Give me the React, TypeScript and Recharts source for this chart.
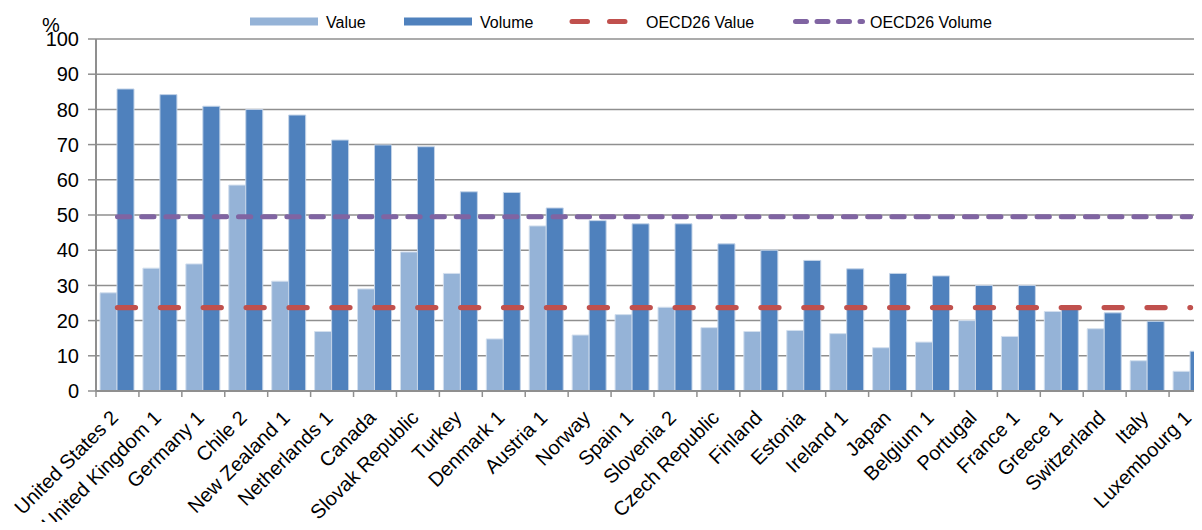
import React from "react";
import { ComposedChart, Bar, Line, XAxis, YAxis, CartesianGrid } from "recharts";

const COUNTRIES = [
  "United States 2", "United Kingdom 1", "Germany 1", "Chile 2", "New Zealand 1",
  "Netherlands 1", "Canada", "Slovak Republic", "Turkey", "Denmark 1", "Austria 1",
  "Norway", "Spain 1", "Slovenia 2", "Czech Republic", "Finland", "Estonia",
  "Ireland 1", "Japan", "Belgium 1", "Portugal", "France 1", "Greece 1",
  "Switzerland", "Italy", "Luxembourg 1",
];
const VALUE = [
  27.9, 34.9, 36.1, 58.5, 31.2, 16.9, 29.0, 39.5, 33.4, 14.8, 46.9, 15.9, 21.7,
  23.8, 18.0, 16.9, 17.2, 16.3, 12.3, 13.9, 20.0, 15.5, 22.6, 17.7, 8.6, 5.6,
];
const VOLUME = [
  85.8, 84.2, 80.9, 80.0, 78.4, 71.3, 69.9, 69.4, 56.6, 56.4, 52.0, 48.4, 47.5,
  47.5, 41.8, 40.0, 37.1, 34.7, 33.4, 32.7, 30.0, 30.0, 23.9, 22.2, 19.8, 11.3,
];
const OECD26_VALUE = 23.7;
const OECD26_VOLUME = 49.5;
const Y_TICKS = [0, 10, 20, 30, 40, 50, 60, 70, 80, 90, 100];

const data = COUNTRIES.map((country, i) => ({
  country,
  value: VALUE[i],
  volume: VOLUME[i],
  oecdValue: OECD26_VALUE,
  oecdVolume: OECD26_VOLUME,
}));

const FONT = "'Liberation Sans', Arial, sans-serif";
const GRID = "#8f8f8f";
const LIGHT = "#95B3D7";
const DARK = "#4F81BD";
const RED = "#C0504D";
const PURPLE = "#8064A2";

const W = 1220;
const H = 530;
const LEFT = 96;
const RIGHT = 8;
const BAND = (W - LEFT - RIGHT) / COUNTRIES.length;

function CountryTick(props: any) {
  const { x, y, payload, index } = props;
  const tx = x + 2;
  const ty = y + 28;
  return (
    <g>
      <line x1={x - BAND / 2} x2={x - BAND / 2} y1={y} y2={y + 6} stroke={GRID} strokeWidth={1.5} />
      {index === COUNTRIES.length - 1 && (
        <line x1={x + BAND / 2} x2={x + BAND / 2} y1={y} y2={y + 6} stroke={GRID} strokeWidth={1.5} />
      )}
      <text
        x={tx}
        y={ty}
        transform={`rotate(-45, ${tx}, ${ty})`}
        textAnchor="end"
        fontSize={20}
        fontFamily={FONT}
        fill="#000"
      >
        {payload.value}
      </text>
    </g>
  );
}

function Overlay() {
  const cy = 21.5;
  return (
    <svg
      width={1202}
      height={45}
      style={{ position: "absolute", left: 0, top: 0, pointerEvents: "none" }}
      fontFamily={FONT}
    >
      <text x={42} y={32} fontSize={20} fill="#000">%</text>
      <rect x={250} y={cy - 4} width={68} height={8} fill={LIGHT} />
      <text x={326} y={cy + 6} fontSize={16} fill="#000">Value</text>
      <rect x={404} y={cy - 4} width={68} height={8} fill={DARK} />
      <text x={480} y={cy + 6} fontSize={16} fill="#000">Volume</text>
      <line x1={572} x2={625.5} y1={cy} y2={cy} stroke={RED} strokeWidth={5} strokeLinecap="round" strokeDasharray="15.5 22" />
      <text x={646} y={cy + 6} fontSize={16} fill="#000">OECD26 Value</text>
      <line x1={795.5} x2={862.5} y1={cy} y2={cy} stroke={PURPLE} strokeWidth={5} strokeLinecap="round" strokeDasharray="11 10.5" />
      <text x={870} y={cy + 6} fontSize={16} fill="#000">OECD26 Volume</text>
    </svg>
  );
}

export default function App() {
  return (
    <div style={{ margin: -8, width: 1202, height: 530, overflow: "hidden", position: "relative", background: "#fff" }}>
      <ComposedChart
        width={W}
        height={H}
        data={data}
        margin={{ top: 39, right: RIGHT, left: 0, bottom: 0 }}
        barGap={0}
      >
        <CartesianGrid vertical={false} stroke={GRID} strokeWidth={1.5} />
        <XAxis
          dataKey="country"
          interval={0}
          height={H - 39 - 352}
          tickLine={false}
          tickSize={0}
          tickMargin={0}
          axisLine={{ stroke: GRID, strokeWidth: 2 }}
          tick={<CountryTick />}
        />
        <YAxis
          width={LEFT}
          domain={[0, 100]}
          ticks={Y_TICKS}
          interval={0}
          tickSize={8}
          tickMargin={9}
          axisLine={{ stroke: GRID, strokeWidth: 2 }}
          tickLine={{ stroke: GRID, strokeWidth: 1.5 }}
          tick={{ fontSize: 20, fill: "#000", fontFamily: FONT }}
        />
        <Bar dataKey="value" name="Value" fill={LIGHT} stroke="#d3dfee" strokeWidth={1} barSize={17} isAnimationActive={false} />
        <Bar dataKey="volume" name="Volume" fill={DARK} stroke="#c4d4e8" strokeWidth={1} barSize={17} isAnimationActive={false} />
        <Line
          dataKey="oecdValue"
          name="OECD26 Value"
          stroke={RED}
          strokeWidth={5.3}
          strokeDasharray="18 24.9"
          strokeLinecap="round"
          dot={false}
          activeDot={false}
          isAnimationActive={false}
        />
        <Line
          dataKey="oecdVolume"
          name="OECD26 Volume"
          stroke={PURPLE}
          strokeWidth={5}
          strokeDasharray="12.3 11.9"
          strokeLinecap="round"
          dot={false}
          activeDot={false}
          isAnimationActive={false}
        />
      </ComposedChart>
      <Overlay />
    </div>
  );
}
